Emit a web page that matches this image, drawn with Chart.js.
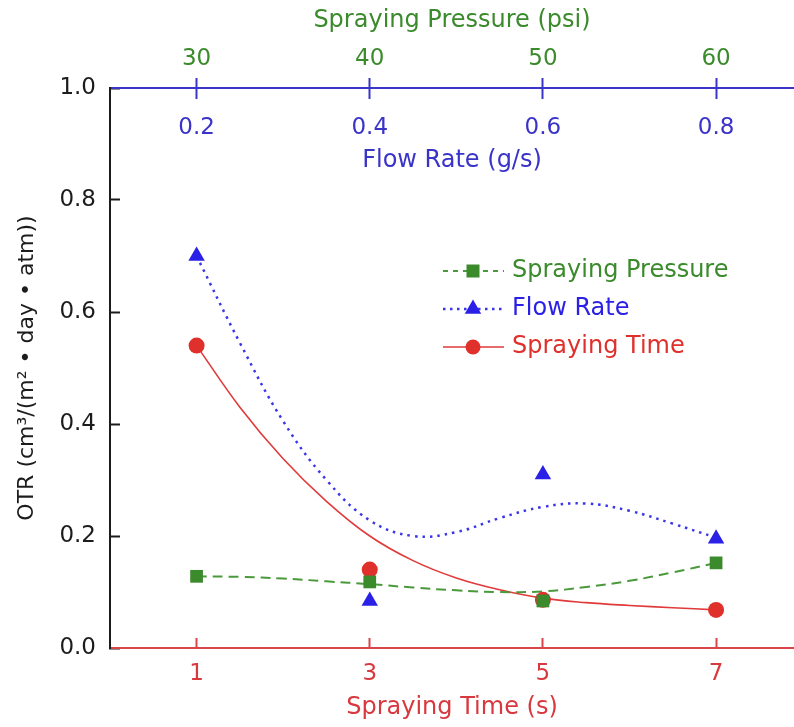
<!DOCTYPE html>
<html><head><meta charset="utf-8">
<script src="https://cdn.jsdelivr.net/npm/chart.js@4/dist/chart.umd.min.js"></script>
<style>html,body{margin:0;padding:0;background:#fff}#wrap{width:794px;height:727px;position:relative}</style>
</head><body><div id="wrap"><canvas id="c" width="794" height="727"></canvas></div>
<script>
// ---- data ----
const timeTicks = [1, 3, 5, 7];
const pressureTicks = [30, 40, 50, 60];
const flowTicks = [0.2, 0.4, 0.6, 0.8];
const pointX = [1, 3, 5, 7];
const pressureOTR = [0.128, 0.118, 0.084, 0.152];
const flowOTR = [0.70, 0.084, 0.31, 0.195];
const timeOTR = [0.54, 0.14, 0.086, 0.068];
const curveX = [1, 1.5, 2, 2.5, 3, 3.5, 4, 4.5, 5, 5.5, 6, 6.5, 7];
const pressureCurve = [0.128, 0.127, 0.124, 0.119, 0.114, 0.108, 0.103, 0.100, 0.101, 0.109, 0.120, 0.135, 0.152];
const flowCurve = [0.70, 0.545, 0.405, 0.30, 0.228, 0.20, 0.207, 0.232, 0.252, 0.258, 0.245, 0.222, 0.197];
const timeCurve = [0.54, 0.43, 0.338, 0.262, 0.200, 0.156, 0.125, 0.104, 0.089, 0.081, 0.076, 0.072, 0.068];

// ---- styles ----
const FAM = "'DejaVu Sans', sans-serif";
const GREEN = '#3b8a2c', BLUE = '#2b20e6', RED = '#e0302c';
const RED_AX = '#d9454a', RED_TXT = '#d8393f', BLUE_AX = '#3a34c8', BLUE_TXT = '#3a33c8', BLACK = '#1c1c1c';

const pts = (xs, ys) => xs.map((x, i) => ({x: x, y: ys[i]}));

const legendPlugin = {
  id: 'customLegend',
  afterDraw(chart) {
    const ctx = chart.ctx;
    const rows = [271, 309, 347];
    [0, 1, 2].forEach(i => {
      const ds = chart.data.datasets[i];
      const line = chart.data.datasets[i + 3];
      const y = rows[i];
      ctx.save();
      ctx.strokeStyle = line.borderColor;
      ctx.lineWidth = line.borderWidth;
      ctx.setLineDash(line.legendDash || []);
      ctx.beginPath(); ctx.moveTo(443, y); ctx.lineTo(504, y); ctx.stroke();
      ctx.setLineDash([]);
      ctx.fillStyle = ds.backgroundColor;
      const cx = 473;
      ctx.beginPath();
      if (ds.pointStyle === 'rect') {
        ctx.rect(cx - 6.5, y - 6.5, 13, 13);
      } else if (ds.pointStyle === 'triangle') {
        const r = 9.5;
        ctx.moveTo(cx, y - r);
        ctx.lineTo(cx + r * 0.866, y + r * 0.5);
        ctx.lineTo(cx - r * 0.866, y + r * 0.5);
        ctx.closePath();
      } else {
        ctx.arc(cx, y, 7.5, 0, Math.PI * 2);
      }
      ctx.fill();
      ctx.font = '24px ' + FAM;
      ctx.textBaseline = 'middle';
      ctx.textAlign = 'left';
      ctx.fillStyle = ds.textColor;
      ctx.fillText(ds.label, 512, y);
      ctx.restore();
    });
  }
};

new Chart(document.getElementById('c'), {
  type: 'line',
  data: {
    datasets: [
      {label: 'Spraying Pressure', data: pts(pointX, pressureOTR), showLine: false, pointStyle: 'rect', pointRadius: 9, pointBorderWidth: 0, backgroundColor: GREEN, borderColor: GREEN, textColor: GREEN},
      {label: 'Flow Rate', data: pts(pointX, flowOTR), showLine: false, pointStyle: 'triangle', pointRadius: 9.5, pointBorderWidth: 0, backgroundColor: BLUE, borderColor: BLUE, textColor: BLUE},
      {label: 'Spraying Time', data: pts(pointX, timeOTR), showLine: false, pointStyle: 'circle', pointRadius: 8, pointBorderWidth: 0, backgroundColor: RED, borderColor: RED, textColor: RED},
      {label: 'pc', data: pts(curveX, pressureCurve), pointRadius: 0, borderColor: '#4a9a3c', borderWidth: 2, borderDash: [10, 6], legendDash: [5, 5], tension: 0.4, fill: false},
      {label: 'fc', data: pts(curveX, flowCurve), pointRadius: 0, borderColor: '#3a35e8', borderWidth: 2.5, borderDash: [2.5, 5], legendDash: [2.5, 4.5], tension: 0.4, fill: false},
      {label: 'tc', data: pts(curveX, timeCurve), pointRadius: 0, borderColor: '#e03a3a', borderWidth: 1.6, tension: 0.4, fill: false}
    ]
  },
  options: {
    responsive: false,
    animation: false,
    layout: {padding: 0, autoPadding: false},
    plugins: {legend: {display: false}, tooltip: {enabled: false}},
    scales: {
      x: {
        type: 'linear', position: 'bottom', min: 0, max: 7.9,
        afterBuildTicks: s => { s.ticks = timeTicks.map(v => ({value: v})); },
        afterFit: s => { s.height = 79; },
        border: {color: RED_AX, width: 2},
        grid: {drawOnChartArea: false, tickLength: -10, tickColor: RED_AX, tickWidth: 2},
        ticks: {color: RED_TXT, font: {family: FAM, size: 23}, padding: 22, maxRotation: 0, autoSkip: false},
        title: {display: true, text: 'Spraying Time (s)', color: RED_TXT, font: {family: FAM, size: 24}, padding: {top: 5, bottom: 5}}
      },
      xp: {
        type: 'linear', position: 'top', min: 25, max: 64.5,
        afterBuildTicks: s => { s.ticks = pressureTicks.map(v => ({value: v})); },
        afterFit: s => { s.height = 88; },
        border: {color: BLUE_AX, width: 2},
        grid: {drawOnChartArea: false, tickLength: 10, tickColor: BLUE_AX, tickWidth: 2},
        ticks: {color: GREEN, font: {family: FAM, size: 23}, padding: 5, maxRotation: 0, autoSkip: false},
        title: {display: true, text: 'Spraying Pressure (psi)', color: GREEN, font: {family: FAM, size: 24}, padding: {top: 6, bottom: 6}}
      },
      xf: {
        type: 'linear', position: {y: 1}, min: 0.1, max: 0.89,
        afterBuildTicks: s => { s.ticks = flowTicks.map(v => ({value: v})); },
        afterFit: s => { s.height = 87; },
        border: {color: BLUE_AX, width: 2},
        grid: {drawOnChartArea: false, tickLength: 10, tickColor: BLUE_AX, tickWidth: 2},
        ticks: {color: BLUE_TXT, font: {family: FAM, size: 23}, padding: 16, maxRotation: 0, autoSkip: false, callback: v => v.toFixed(1)},
        title: {display: true, text: 'Flow Rate (g/s)', color: BLUE_TXT, font: {family: FAM, size: 24}, padding: 0}
      },
      y: {
        type: 'linear', position: 'left', min: 0, max: 1,
        afterFit: s => { s.width = 110; },
        border: {color: BLACK, width: 2},
        grid: {drawOnChartArea: false, tickLength: -10, tickColor: BLACK, tickWidth: 2},
        ticks: {stepSize: 0.2, color: BLACK, font: {family: FAM, size: 23}, padding: 24, callback: v => v.toFixed(1)},
        title: {display: true, text: 'OTR (cm³/(m² • day • atm))', color: BLACK, font: {family: FAM, size: 22}, padding: {top: 14, bottom: 14}}
      }
    }
  },
  plugins: [legendPlugin]
});
</script>
</body></html>
